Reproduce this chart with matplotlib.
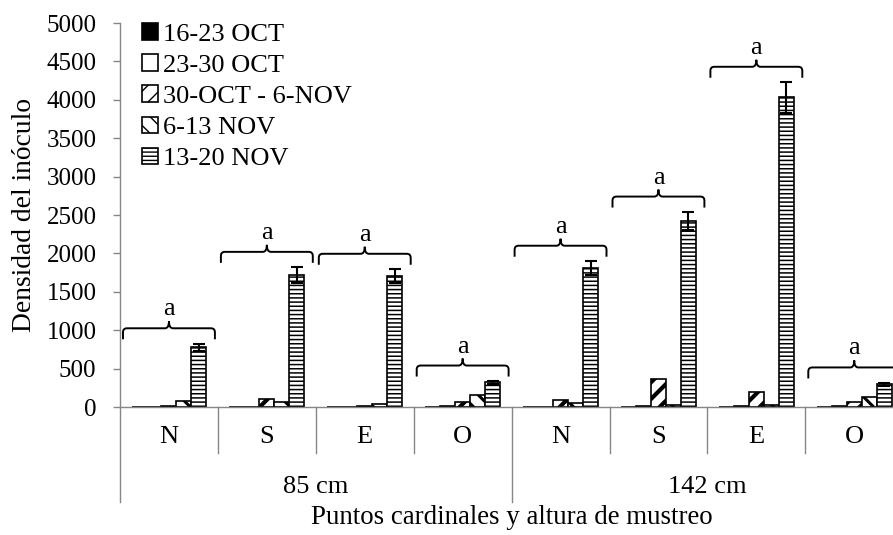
import numpy as np
import matplotlib
matplotlib.use('Agg')
import matplotlib.pyplot as plt
from matplotlib.path import Path
from matplotlib.patches import PathPatch
from matplotlib.transforms import blended_transform_factory

plt.rcParams['font.family'] = ['Liberation Serif', 'DejaVu Serif']

# Daten
puntos = ['N', 'S', 'E', 'O', 'N', 'S', 'E', 'O']
alturas = ['85 cm', '142 cm']
series = ['16-23 OCT', '23-30 OCT', '30-OCT - 6-NOV', '6-13 NOV', '13-20 NOV']

oct_16_23 = [3, 3, 3, 3, 3, 3, 3, 3]
oct_23_30 = [5, 5, 5, 12, 5, 8, 8, 8]
oct30_nov6 = [10, 105, 10, 70, 85, 360, 190, 65]
nov_6_13 = [75, 60, 40, 150, 55, 25, 20, 130]
nov_13_20 = [780, 1720, 1705, 320, 1810, 2420, 4030, 295]
err_13_20 = [45, 100, 90, 20, 90, 120, 200, 20]
letras = ['a', 'a', 'a', 'a', 'a', 'a', 'a', 'a']

valores = [oct_16_23, oct_23_30, oct30_nov6, nov_6_13, nov_13_20]

# Stil je Serie: (Farbe, Schraffur, Schraffur-Linienstaerke)
estilos = [('black', None, 1.0),
           ('white', None, 1.0),
           ('white', '//', 3.0),
           ('white', '\\\\', 2.2),
           ('white', '----', 1.1)]

gris = '#868686'
fs = 19
fs_tick = 18

fig = plt.figure(figsize=(8.93, 5.35), dpi=100)
W, H = 893, 535
# Achse: links 120 px, unten 407 px, oben 23 px, 98 px je Kategorie
ax = fig.add_axes([120 / W, (H - 407) / H, 8 * 97.9 / W, 384 / H])

x = np.arange(len(puntos))
w = 0.153

for i, (vals, (col, hat, hlw)) in enumerate(zip(valores, estilos)):
    with plt.rc_context({'hatch.linewidth': hlw, 'hatch.color': 'black'}):
        ax.bar(x + (i - 2) * w, vals, w, color=col, edgecolor='black',
               hatch=hat, linewidth=1.2, label=series[i], zorder=3)

ax.errorbar(x + 2 * w, nov_13_20, yerr=err_13_20, fmt='none', ecolor='black',
            elinewidth=1.5, capsize=4, capthick=1.5, zorder=4)

ax.set_xlim(-0.5, 7.5)
ax.set_ylim(0, 5000)
ax.set_yticks(np.arange(0, 5001, 500))
ax.tick_params(axis='y', direction='out', length=5, width=1, color=gris,
               labelsize=fs_tick, pad=12)
ax.set_xticks([])
for s in ['top', 'right']:
    ax.spines[s].set_visible(False)
for s in ['left', 'bottom']:
    ax.spines[s].set_color(gris)
    ax.spines[s].set_linewidth(1.0)
    ax.spines[s].set_zorder(5)

ax.set_ylabel('Densidad del inóculo', fontsize=19.8, labelpad=7)

# Klammern mit Buchstaben
px_x = 1 / 97.9
px_y = 5000 / 384
for k in range(len(puntos)):
    top = max(v[k] for v in valores) + err_13_20[k]
    yb = top + 200
    x0 = k - 0.5 + 3 * px_x
    x1 = k + 0.5 - 3 * px_x
    xc = k
    rx = 4 * px_x
    rr = 4 * px_y
    tip = 11 * px_y
    peak = 7 * px_y
    verts = [(x0, yb - tip), (x0, yb - rr), (x0, yb), (x0 + rx, yb),
             (xc - rx, yb), (xc, yb), (xc, yb + peak),
             (xc, yb), (xc + rx, yb),
             (x1 - rx, yb), (x1, yb), (x1, yb - rr), (x1, yb - tip)]
    codes = [Path.MOVETO, Path.LINETO, Path.CURVE3, Path.CURVE3,
             Path.LINETO, Path.CURVE3, Path.CURVE3,
             Path.CURVE3, Path.CURVE3,
             Path.LINETO, Path.CURVE3, Path.CURVE3, Path.LINETO]
    ax.add_patch(PathPatch(Path(verts, codes), fill=False, edgecolor='black',
                           linewidth=1.4, clip_on=False, zorder=4))
    ax.text(xc, yb + 8 * px_y, letras[k], ha='center', va='bottom',
            fontsize=fs, clip_on=False)

# mehrstufige Kategorienachse
tr = blended_transform_factory(ax.transData, fig.transFigure)
y_axis = (H - 407) / H
y_in = (H - 453) / H
y_out = (H - 502) / H
for k in range(len(puntos) + 1):
    xs = k - 0.5
    y_end = y_out if k % 4 == 0 else y_in
    ax.plot([xs, xs], [y_axis, y_end], color=gris, lw=1.0, transform=tr,
            clip_on=False)
for k, p in enumerate(puntos):
    ax.text(k, (H - 437) / H, p, ha='center', va='center', fontsize=fs,
            transform=tr)
for j, a in enumerate(alturas):
    ax.text(j * 4 + 1.5, (H - 487) / H, a, ha='center', va='center',
            fontsize=fs, transform=tr)

ax.text(3.5, (H - 517) / H, 'Puntos cardinales y altura de mustreo',
        ha='center', va='center', fontsize=19.4, transform=tr)

leg = ax.legend(loc='upper left', bbox_to_anchor=(0.015, 1.027), frameon=False,
                fontsize=fs, handlelength=0.6, handleheight=0.6,
                handletextpad=0.2, labelspacing=0.32, borderaxespad=0)

fig.savefig('out.png', dpi=100)
